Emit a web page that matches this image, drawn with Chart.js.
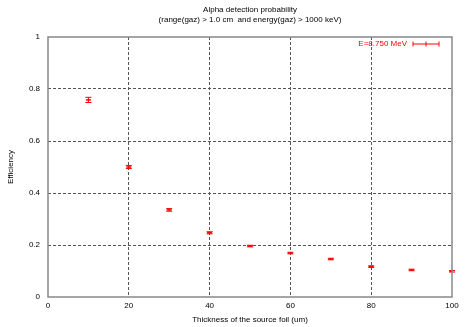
<!DOCTYPE html>
<html>
<head>
<meta charset="utf-8">
<script src="https://cdn.jsdelivr.net/npm/chart.js@4"></script>
<style>
  html, body { margin: 0; padding: 0; background: #fff; }
  #wrap { width: 468px; height: 327px; }
</style>
</head>
<body>
<div id="wrap"><canvas id="c" width="468" height="327"></canvas></div>
<script>
// values
const thickness  = [10, 20, 30, 40, 50, 60, 70, 80, 90, 100];
const efficiency = [0.758, 0.500, 0.335, 0.247, 0.196, 0.169, 0.146, 0.117, 0.104, 0.099];
const errors     = [0.010, 0.006, 0.005, 0.004, 0.003, 0.003, 0.003, 0.003, 0.003, 0.003];
const yTicks     = [0, 0.2, 0.4, 0.6, 0.8, 1];
const xTicks     = [0, 20, 40, 60, 80, 100];
const titleLines = ['Alpha detection probability', '(range(gaz) > 1.0 cm  and energy(gaz) > 1000 keV)'];
const legendText = 'E=8.750 MeV';

const RED  = '#ff0000';
const FONT = 'Liberation Sans, Arial, sans-serif';

// error bars, frame, title and key
const extras = {
  id: 'extras',
  afterDatasetsDraw(chart) {
    const { ctx, scales: { x, y } } = chart;
    ctx.save();
    ctx.strokeStyle = RED;
    ctx.lineWidth = 1;
    thickness.forEach((t, i) => {
      const px = x.getPixelForValue(t);
      const lo = y.getPixelForValue(efficiency[i] - errors[i]);
      const hi = y.getPixelForValue(efficiency[i] + errors[i]);
      ctx.beginPath();
      ctx.moveTo(px, lo); ctx.lineTo(px, hi);
      ctx.moveTo(px - 3, lo); ctx.lineTo(px + 3, lo);
      ctx.moveTo(px - 3, hi); ctx.lineTo(px + 3, hi);
      ctx.stroke();
    });
    ctx.restore();
  },
  afterDraw(chart) {
    const { ctx, chartArea: a } = chart;
    ctx.save();
    // frame
    ctx.strokeStyle = '#888';
    ctx.lineWidth = 1.5;
    ctx.strokeRect(a.left, a.top, a.right - a.left, a.bottom - a.top);
    // title
    ctx.fillStyle = '#000';
    ctx.font = '8px ' + FONT;
    ctx.textAlign = 'center';
    ctx.textBaseline = 'middle';
    ctx.fillText(titleLines[0], 250, 10);
    ctx.fillText(titleLines[1], 250, 20);
    // key
    ctx.fillStyle = RED;
    ctx.textAlign = 'right';
    ctx.fillText(legendText, 407, 44);
    ctx.strokeStyle = RED;
    ctx.lineWidth = 1;
    ctx.beginPath();
    ctx.moveTo(413, 44); ctx.lineTo(439, 44);
    [413, 426, 439].forEach(px => { ctx.moveTo(px, 41.5); ctx.lineTo(px, 46.5); });
    ctx.stroke();
    ctx.restore();
  }
};

new Chart(document.getElementById('c'), {
  type: 'scatter',
  data: {
    datasets: [{
      label: legendText,
      data: thickness.map((t, i) => ({ x: t, y: efficiency[i] })),
      showLine: false,
      pointStyle: 'line',
      pointRadius: 2.5,
      borderColor: RED,
      backgroundColor: RED,
      borderWidth: 1.5,
    }],
  },
  plugins: [extras],
  options: {
    responsive: false,
    animation: false,
    layout: { padding: { top: 37, right: 16, left: 0, bottom: 0 } },
    plugins: {
      legend: { display: false },
      title: { display: false },
      tooltip: { enabled: false },
    },
    scales: {
      x: {
        type: 'linear',
        min: 0, max: 100,
        afterBuildTicks: s => { s.ticks = xTicks.map(v => ({ value: v })); },
        afterFit: s => { s.height = 30; },
        grid: {
          color: ctx => (ctx.tick && (ctx.tick.value === 0 || ctx.tick.value === 100)) ? 'rgba(0,0,0,0)' : '#555',
          lineWidth: 1,
          drawTicks: false,
        },
        border: { display: false, dash: [3, 2] },
        ticks: { color: '#000', padding: 4, font: { family: FONT, size: 8 } },
        title: {
          display: true,
          text: 'Thickness of the source foil (um)',
          color: '#000',
          font: { family: FONT, size: 8 },
          padding: { top: 0, bottom: 2 },
        },
      },
      y: {
        type: 'linear',
        min: 0, max: 1,
        afterBuildTicks: s => { s.ticks = yTicks.map(v => ({ value: v })); },
        afterFit: s => { s.width = 48; },
        grid: {
          color: ctx => (ctx.tick && (ctx.tick.value === 0 || ctx.tick.value === 1)) ? 'rgba(0,0,0,0)' : '#555',
          lineWidth: 1,
          drawTicks: false,
        },
        border: { display: false, dash: [3, 2] },
        ticks: {
          color: '#000', padding: 8, font: { family: FONT, size: 8 },
          callback: v => String(v),
        },
        title: {
          display: true,
          text: 'Efficiency',
          color: '#000',
          font: { family: FONT, size: 8 },
          padding: { top: 6, bottom: 0 },
        },
      },
    },
  },
});
</script>
</body>
</html>
